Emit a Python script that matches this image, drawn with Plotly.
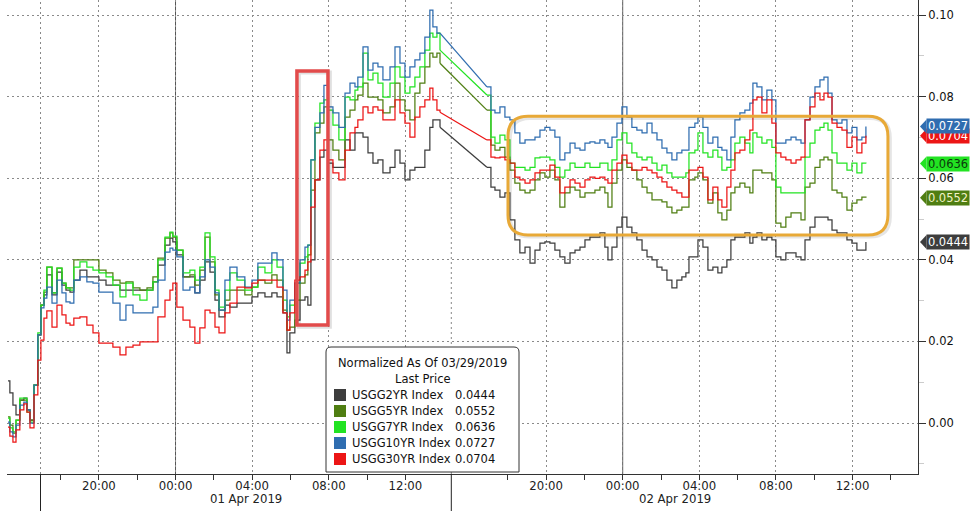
import plotly.graph_objects as go

# ---------------- data (hours on the chart's time scale, first 20:00 = 0) ----------------
hours = [
    -4.75, -4.65, -4.49, -4.33, -4.13, -3.92, -3.76, -3.60, -3.39, -3.19,
    -3.03, -2.87, -2.72, -2.45, -2.19, -1.93, -1.72, -1.51, -1.31, -0.99,
    -0.63, -0.31, 0.00, 0.37, 0.73, 1.10, 1.41, 1.78, 2.14, 2.51,
    2.82, 3.08, 3.45, 3.71, 3.86, 4.07, 4.39, 4.75, 5.01, 5.27,
    5.54, 5.80, 6.06, 6.27, 6.58, 6.84, 7.21, 7.62, 7.99, 8.30,
    8.67, 9.03, 9.30, 9.61, 9.82, 9.97, 10.23, 10.50, 10.76, 10.91,
    11.07, 11.28, 11.54, 11.75, 11.96, 12.22, 12.53, 12.85, 13.11, 13.37,
    13.52, 13.79, 14.05, 14.31, 14.57, 14.83, 15.20, 15.46, 15.72, 15.98,
    16.24, 16.50, 16.76, 17.02, 17.28, 17.44, 17.65, 17.81,
    20.26,
    20.47, 20.68, 20.94, 21.20, 21.46, 21.72, 21.98, 22.25, 22.51, 22.77,
    23.03, 23.29, 23.55, 23.81, 24.07, 24.33, 24.60, 24.86, 25.12, 25.38,
    25.64, 25.90, 26.16, 26.42, 26.58, 26.79, 27.05, 27.31, 27.57, 27.83,
    28.09, 28.36, 28.62, 28.88, 29.14, 29.40, 29.66, 29.92, 30.18, 30.44,
    30.65, 30.81, 31.12, 31.28, 31.54, 31.80, 32.06, 32.32, 32.53, 32.79,
    33.00, 33.21, 33.47, 33.73, 33.99, 34.15, 34.36, 34.62, 34.88, 35.14,
    35.35, 35.61, 35.87, 36.14, 36.40, 36.66, 36.87, 37.13, 37.39, 37.65,
    37.86, 38.07, 38.28, 38.54, 38.80, 39.06, 39.32, 39.58, 39.84, 40.05,
]

usgg2yr = [
    0.0103, 0.0074, 0.0044, 0.0020, 0.0056, 0.0061, 0.0032, 0.0007, 0.0093, 0.0216,
    0.0289, 0.0314, 0.0363, 0.0314, 0.0370, 0.0338, 0.0326, 0.0321, 0.0350, 0.0375,
    0.0358, 0.0358, 0.0350, 0.0338, 0.0338, 0.0326, 0.0326, 0.0326, 0.0326, 0.0326,
    0.0346, 0.0387, 0.0436, 0.0453, 0.0444, 0.0412, 0.0358, 0.0358, 0.0319, 0.0350,
    0.0395, 0.0370, 0.0301, 0.0260, 0.0289, 0.0284, 0.0294, 0.0294, 0.0309, 0.0319,
    0.0309, 0.0319, 0.0309, 0.0270, 0.0172, 0.0221, 0.0252, 0.0301, 0.0309, 0.0289,
    0.0400, 0.0596, 0.0652, 0.0669, 0.0637, 0.0627, 0.0627, 0.0694, 0.0669, 0.0711,
    0.0711, 0.0701, 0.0662, 0.0637, 0.0645, 0.0613, 0.0627, 0.0669, 0.0637, 0.0596,
    0.0620, 0.0627, 0.0627, 0.0669, 0.0725, 0.0743, 0.0743, 0.0725,
    0.0627,
    0.0578, 0.0571, 0.0554, 0.0564, 0.0498, 0.0449, 0.0417, 0.0431, 0.0392, 0.0424,
    0.0441, 0.0444, 0.0441, 0.0424, 0.0407, 0.0392, 0.0417, 0.0424, 0.0431, 0.0449,
    0.0456, 0.0456, 0.0466, 0.0431, 0.0400, 0.0431, 0.0480, 0.0505, 0.0480, 0.0466,
    0.0449, 0.0424, 0.0407, 0.0400, 0.0382, 0.0375, 0.0350, 0.0331, 0.0350, 0.0358,
    0.0368, 0.0407, 0.0407, 0.0449, 0.0431, 0.0375, 0.0382, 0.0368, 0.0382, 0.0400,
    0.0449, 0.0456, 0.0456, 0.0466, 0.0441, 0.0456, 0.0466, 0.0449, 0.0456, 0.0449,
    0.0407, 0.0400, 0.0417, 0.0417, 0.0407, 0.0400, 0.0449, 0.0480, 0.0505, 0.0505,
    0.0505, 0.0498, 0.0473, 0.0466, 0.0466, 0.0449, 0.0441, 0.0424, 0.0424, 0.0444,
]

usgg5yr = [
    0.0015, -0.0005, -0.0025, 0.0007, 0.0056, 0.0056, 0.0032, 0.0007, 0.0093, 0.0216,
    0.0289, 0.0321, 0.0382, 0.0319, 0.0380, 0.0343, 0.0331, 0.0331, 0.0400, 0.0400,
    0.0400, 0.0400, 0.0375, 0.0368, 0.0350, 0.0343, 0.0346, 0.0331, 0.0326, 0.0331,
    0.0358, 0.0404, 0.0453, 0.0466, 0.0456, 0.0424, 0.0358, 0.0363, 0.0338, 0.0375,
    0.0456, 0.0395, 0.0314, 0.0277, 0.0301, 0.0326, 0.0326, 0.0314, 0.0333, 0.0350,
    0.0343, 0.0363, 0.0350, 0.0277, 0.0228, 0.0235, 0.0301, 0.0343, 0.0363, 0.0412,
    0.0571, 0.0711, 0.0735, 0.0775, 0.0694, 0.0669, 0.0645, 0.0750, 0.0767, 0.0792,
    0.0804, 0.0833, 0.0799, 0.0799, 0.0792, 0.0760, 0.0775, 0.0833, 0.0792, 0.0767,
    0.0743, 0.0809, 0.0833, 0.0873, 0.0907, 0.0897, 0.0907, 0.0882,
    0.0767,
    0.0681, 0.0669, 0.0676, 0.0652, 0.0620, 0.0588, 0.0571, 0.0564, 0.0571, 0.0596,
    0.0613, 0.0603, 0.0620, 0.0596, 0.0529, 0.0564, 0.0578, 0.0571, 0.0554, 0.0564,
    0.0564, 0.0571, 0.0578, 0.0564, 0.0529, 0.0588, 0.0620, 0.0645, 0.0627, 0.0620,
    0.0596, 0.0578, 0.0564, 0.0547, 0.0547, 0.0542, 0.0529, 0.0515, 0.0522, 0.0529,
    0.0529, 0.0596, 0.0603, 0.0613, 0.0596, 0.0539, 0.0564, 0.0515, 0.0498, 0.0522,
    0.0564, 0.0578, 0.0588, 0.0578, 0.0564, 0.0620, 0.0620, 0.0613, 0.0613, 0.0596,
    0.0490, 0.0480, 0.0505, 0.0515, 0.0515, 0.0498, 0.0578, 0.0588, 0.0627, 0.0645,
    0.0652, 0.0645, 0.0571, 0.0564, 0.0554, 0.0522, 0.0539, 0.0547, 0.0554, 0.0552,
]

usgg7yr = [
    0.0012, -0.0012, -0.0022, 0.0007, 0.0061, 0.0061, 0.0027, 0.0002, 0.0093, 0.0221,
    0.0289, 0.0326, 0.0382, 0.0319, 0.0380, 0.0343, 0.0331, 0.0326, 0.0382, 0.0395,
    0.0382, 0.0375, 0.0368, 0.0358, 0.0338, 0.0309, 0.0343, 0.0314, 0.0301, 0.0326,
    0.0346, 0.0400, 0.0456, 0.0468, 0.0458, 0.0424, 0.0368, 0.0375, 0.0350, 0.0382,
    0.0466, 0.0407, 0.0326, 0.0284, 0.0326, 0.0368, 0.0350, 0.0326, 0.0333, 0.0382,
    0.0368, 0.0400, 0.0382, 0.0301, 0.0260, 0.0289, 0.0343, 0.0392, 0.0407, 0.0436,
    0.0645, 0.0735, 0.0784, 0.0792, 0.0767, 0.0730, 0.0694, 0.0799, 0.0792, 0.0816,
    0.0824, 0.0907, 0.0841, 0.0858, 0.0833, 0.0799, 0.0833, 0.0873, 0.0848, 0.0809,
    0.0824, 0.0848, 0.0873, 0.0914, 0.0956, 0.0946, 0.0956, 0.0914,
    0.0804,
    0.0701, 0.0686, 0.0706, 0.0694, 0.0637, 0.0627, 0.0627, 0.0620, 0.0627, 0.0650,
    0.0652, 0.0652, 0.0645, 0.0627, 0.0603, 0.0620, 0.0637, 0.0627, 0.0627, 0.0637,
    0.0627, 0.0627, 0.0637, 0.0637, 0.0620, 0.0645, 0.0694, 0.0711, 0.0686, 0.0662,
    0.0652, 0.0645, 0.0652, 0.0637, 0.0620, 0.0632, 0.0613, 0.0603, 0.0603, 0.0603,
    0.0613, 0.0662, 0.0669, 0.0711, 0.0662, 0.0652, 0.0669, 0.0652, 0.0620, 0.0627,
    0.0645, 0.0686, 0.0701, 0.0686, 0.0662, 0.0711, 0.0701, 0.0686, 0.0694, 0.0676,
    0.0578, 0.0564, 0.0564, 0.0564, 0.0564, 0.0564, 0.0652, 0.0686, 0.0718, 0.0725,
    0.0735, 0.0718, 0.0662, 0.0637, 0.0637, 0.0620, 0.0637, 0.0613, 0.0637, 0.0636,
]

usgg10yr = [
    0.0002, -0.0022, -0.0034, -0.0005, 0.0044, 0.0051, 0.0032, 0.0000, 0.0093, 0.0216,
    0.0282, 0.0306, 0.0333, 0.0294, 0.0350, 0.0319, 0.0297, 0.0294, 0.0350, 0.0358,
    0.0346, 0.0343, 0.0321, 0.0321, 0.0294, 0.0252, 0.0289, 0.0270, 0.0270, 0.0270,
    0.0284, 0.0350, 0.0419, 0.0429, 0.0424, 0.0407, 0.0326, 0.0333, 0.0319, 0.0358,
    0.0400, 0.0382, 0.0319, 0.0277, 0.0350, 0.0382, 0.0358, 0.0333, 0.0350, 0.0392,
    0.0392, 0.0417, 0.0400, 0.0326, 0.0252, 0.0301, 0.0343, 0.0400, 0.0431, 0.0436,
    0.0645, 0.0725, 0.0760, 0.0828, 0.0775, 0.0760, 0.0725, 0.0809, 0.0833, 0.0824,
    0.0848, 0.0922, 0.0865, 0.0882, 0.0873, 0.0841, 0.0873, 0.0922, 0.0882, 0.0848,
    0.0873, 0.0890, 0.0907, 0.0946, 0.1012, 0.0971, 0.0956, 0.0956,
    0.0824,
    0.0767, 0.0760, 0.0775, 0.0750, 0.0743, 0.0711, 0.0686, 0.0694, 0.0694, 0.0701,
    0.0718, 0.0725, 0.0718, 0.0701, 0.0645, 0.0662, 0.0686, 0.0674, 0.0669, 0.0686,
    0.0689, 0.0686, 0.0694, 0.0686, 0.0676, 0.0701, 0.0735, 0.0775, 0.0750, 0.0725,
    0.0718, 0.0711, 0.0735, 0.0711, 0.0694, 0.0674, 0.0662, 0.0645, 0.0662, 0.0669,
    0.0669, 0.0725, 0.0735, 0.0750, 0.0725, 0.0686, 0.0701, 0.0676, 0.0669, 0.0645,
    0.0701, 0.0743, 0.0760, 0.0767, 0.0784, 0.0833, 0.0824, 0.0792, 0.0816, 0.0792,
    0.0686, 0.0686, 0.0694, 0.0701, 0.0694, 0.0686, 0.0743, 0.0799, 0.0824, 0.0841,
    0.0848, 0.0809, 0.0743, 0.0735, 0.0743, 0.0711, 0.0725, 0.0694, 0.0701, 0.0727,
]

usgg30yr = [
    -0.0010, -0.0032, -0.0047, -0.0017, 0.0032, 0.0047, 0.0027, -0.0012, 0.0069, 0.0154,
    0.0203, 0.0257, 0.0275, 0.0235, 0.0289, 0.0265, 0.0245, 0.0240, 0.0257, 0.0260,
    0.0240, 0.0221, 0.0196, 0.0196, 0.0186, 0.0167, 0.0186, 0.0191, 0.0199, 0.0199,
    0.0199, 0.0260, 0.0301, 0.0326, 0.0343, 0.0284, 0.0252, 0.0235, 0.0196, 0.0233,
    0.0277, 0.0270, 0.0235, 0.0221, 0.0270, 0.0294, 0.0333, 0.0331, 0.0343, 0.0350,
    0.0350, 0.0350, 0.0333, 0.0270, 0.0228, 0.0270, 0.0350, 0.0358, 0.0375, 0.0395,
    0.0529, 0.0596, 0.0669, 0.0694, 0.0645, 0.0613, 0.0596, 0.0669, 0.0711, 0.0725,
    0.0743, 0.0775, 0.0760, 0.0775, 0.0767, 0.0743, 0.0743, 0.0792, 0.0760, 0.0735,
    0.0701, 0.0750, 0.0775, 0.0792, 0.0821, 0.0792, 0.0767, 0.0762,
    0.0694,
    0.0652, 0.0650, 0.0652, 0.0645, 0.0637, 0.0603, 0.0596, 0.0588, 0.0596, 0.0613,
    0.0620, 0.0620, 0.0632, 0.0603, 0.0564, 0.0578, 0.0596, 0.0588, 0.0578, 0.0596,
    0.0603, 0.0600, 0.0603, 0.0596, 0.0588, 0.0620, 0.0637, 0.0657, 0.0637, 0.0620,
    0.0620, 0.0627, 0.0620, 0.0613, 0.0603, 0.0591, 0.0578, 0.0571, 0.0564, 0.0554,
    0.0554, 0.0620, 0.0620, 0.0627, 0.0603, 0.0547, 0.0578, 0.0547, 0.0529, 0.0578,
    0.0620, 0.0662, 0.0669, 0.0694, 0.0718, 0.0792, 0.0799, 0.0760, 0.0792, 0.0735,
    0.0662, 0.0652, 0.0645, 0.0637, 0.0645, 0.0652, 0.0743, 0.0775, 0.0809, 0.0792,
    0.0809, 0.0799, 0.0735, 0.0725, 0.0718, 0.0676, 0.0701, 0.0662, 0.0686, 0.0704,
]

series_names = ["USGG2YR Index", "USGG5YR Index", "USGG7YR Index",
                "USGG10YR Index", "USGG30YR Index"]
last_price = [0.0444, 0.0552, 0.0636, 0.0727, 0.0704]

tick_hours = [0, 4, 8, 12, 16, 23.35, 27.35, 31.35, 35.35, 39.35]
tick_labels = ["20:00", "00:00", "04:00", "08:00", "12:00",
               "20:00", "00:00", "04:00", "08:00", "12:00"]
minor_hours = [-2, 2, 6, 10, 14, 21.35, 25.35, 29.35, 33.35, 37.35, 41.35]
midnight_hours = [4, 27.35]
session_breaks = [-3.05, 18.4]
date_labels = ["01 Apr 2019", "02 Apr 2019"]
date_label_hours = [7.7, 30.1]
y_ticks = [0.0, 0.02, 0.04, 0.06, 0.08, 0.10]
y_minor = [-0.01, 0.01, 0.03, 0.05, 0.07, 0.09]
legend_title = ["Normalized As Of 03/29/2019", "Last Price"]

# ---------------- styling ----------------
line_colors = ["#3d3d3d", "#4f7e12", "#22e322", "#2f6db0", "#ec1515"]
tag_text_colors = ["#ffffff", "#f2f2c8", "#0c3a0c", "#ffffff", "#ffffff"]
W, H = 976, 511
ML, MR, MT, MB = 7, 58, 0, 37
PW, PH = W - ML - MR, H - MT - MB
X_RANGE = [-4.80, 42.77]
Y_RANGE = [-0.0125, 0.1037]
FONT = "DejaVu Sans, Verdana, sans-serif"
NARROW = "Liberation Sans Narrow, DejaVu Sans Condensed, Arial Narrow, sans-serif"


def px(x):
    return (x - ML) / PW


def py(y):
    return (H - MB - y) / PH


fig = go.Figure()
series = [usgg2yr, usgg5yr, usgg7yr, usgg10yr, usgg30yr]
gap_start = hours.index(17.81)
gap_end = hours.index(20.26)
for name, vals, col in zip(series_names, series, line_colors):
    ln = dict(color=col, width=1.25)
    fig.add_trace(go.Scatter(x=hours[:gap_start + 1], y=vals[:gap_start + 1], mode="lines",
                             name=name, line=dict(**ln, shape="hv"),
                             showlegend=False, hoverinfo="skip"))
    fig.add_trace(go.Scatter(x=hours[gap_start:gap_end + 1], y=vals[gap_start:gap_end + 1],
                             mode="lines", name=name, line=dict(**ln, shape="linear"),
                             showlegend=False, hoverinfo="skip"))
    fig.add_trace(go.Scatter(x=hours[gap_end:], y=vals[gap_end:], mode="lines",
                             name=name, line=dict(**ln, shape="hv"),
                             showlegend=False, hoverinfo="skip"))

shapes = []
for h in midnight_hours:
    shapes.append(dict(type="line", xref="x", yref="paper", x0=h, x1=h, y0=0, y1=1,
                       line=dict(color="#555555", width=1), layer="between"))
for h in session_breaks:
    shapes.append(dict(type="line", xref="x", yref="paper", x0=h, x1=h, y0=0, y1=1,
                       line=dict(color="#888888", width=1, dash="2px,3px"), layer="between"))
    shapes.append(dict(type="line", xref="x", yref="paper", x0=h, x1=h, y0=0, y1=-MB / PH,
                       line=dict(color="#222222", width=1), layer="above"))

# red highlight box
rb = dict(x0=10.34, x1=11.96, y0=0.0240, y1=0.0863)
shapes.append(dict(type="rect", xref="x", yref="y", x0=rb["x0"] + 0.1, x1=rb["x1"] + 0.1,
                   y0=rb["y0"] - 0.0004, y1=rb["y1"] - 0.0004,
                   line=dict(color="rgba(0,0,0,0.12)", width=4), layer="above"))
shapes.append(dict(type="rect", xref="x", yref="y", **rb,
                   line=dict(color="#e24b4b", width=3.5), layer="above"))

# orange rounded box
x0, x1, yb, yt = 21.36, 41.2, 0.0461, 0.0752
rx = 20 / (PW / (X_RANGE[1] - X_RANGE[0]))
ry = 20 / (PH / (Y_RANGE[1] - Y_RANGE[0]))


def rounded(x0, x1, yb, yt, rx, ry):
    return (f"M {x0+rx},{yt} L {x1-rx},{yt} Q {x1},{yt} {x1},{yt-ry} "
            f"L {x1},{yb+ry} Q {x1},{yb} {x1-rx},{yb} L {x0+rx},{yb} "
            f"Q {x0},{yb} {x0},{yb+ry} L {x0},{yt-ry} Q {x0},{yt} {x0+rx},{yt} Z")


shapes.append(dict(type="path", xref="x", yref="y",
                   path=rounded(x0 + 0.1, x1 + 0.1, yb - 0.0004, yt - 0.0004, rx, ry),
                   line=dict(color="rgba(0,0,0,0.10)", width=4), layer="above"))
shapes.append(dict(type="path", xref="x", yref="y", path=rounded(x0, x1, yb, yt, rx, ry),
                   line=dict(color="#e8a937", width=3), layer="above"))

# legend box
lx0, lx1, ly0, ly1 = px(326), px(519), py(472), py(347)
lrx, lry = 5 / PW, 5 / PH
shapes.append(dict(type="path", xref="paper", yref="paper",
                   path=(f"M {lx0+lrx},{ly1} L {lx1-lrx},{ly1} Q {lx1},{ly1} {lx1},{ly1-lry} "
                         f"L {lx1},{ly0} L {lx0},{ly0} L {lx0},{ly1-lry} Q {lx0},{ly1} {lx0+lrx},{ly1} Z"),
                   fillcolor="white", line=dict(color="#333333", width=1), layer="above"))

annotations = []
for k, yy in enumerate([363, 379]):
    annotations.append(dict(xref="paper", yref="paper", x=px(422.5), y=py(yy), text=legend_title[k],
                            showarrow=False, xanchor="center", yanchor="middle",
                            font=dict(family=FONT, size=11.5, color="#111111")))
for i, (name, val, col) in enumerate(zip(series_names, last_price, line_colors)):
    ry_px = 395 + 16 * i
    shapes.append(dict(type="rect", xref="paper", yref="paper",
                       x0=px(334), x1=px(346), y0=py(ry_px + 6), y1=py(ry_px - 6),
                       fillcolor=col, line=dict(width=0), layer="above"))
    annotations.append(dict(xref="paper", yref="paper", x=px(350), y=py(ry_px), text=name,
                            showarrow=False, xanchor="left", yanchor="middle",
                            font=dict(family=FONT, size=11.5, color="#111111")))
    annotations.append(dict(xref="paper", yref="paper", x=px(453), y=py(ry_px), text=f"{val:.4f}",
                            showarrow=False, xanchor="left", yanchor="middle",
                            font=dict(family=FONT, size=11.5, color="#111111")))

# last-value tags on the right axis
tag_order = [0, 1, 2, 4, 3]  # red before blue so blue sits on top
half = 7 * (Y_RANGE[1] - Y_RANGE[0]) / PH
for i in tag_order:
    v = last_price[i]
    shapes.append(dict(type="path", xref="paper", yref="y",
                       path=f"M {px(920)},{v} L {px(926.5)},{v+half} L {px(926.5)},{v-half} Z",
                       fillcolor=line_colors[i], line=dict(width=0), layer="above"))
    annotations.append(dict(xref="paper", yref="y", x=px(926), y=v, text=f"{v:.4f}",
                            showarrow=False, xanchor="left", yanchor="middle",
                            width=42, height=14, bgcolor=line_colors[i], borderpad=0,
                            font=dict(family=FONT, size=11.5, color=tag_text_colors[i])))

# date labels under the time axis
for lab, h in zip(date_labels, date_label_hours):
    annotations.append(dict(xref="x", yref="paper", x=h, y=py(499), text=lab,
                            showarrow=False, xanchor="center", yanchor="middle",
                            font=dict(family=NARROW, size=13, color="#222222")))

fig.update_layout(
    width=W, height=H, autosize=False,
    margin=dict(l=ML, r=MR, t=MT, b=MB, pad=0),
    paper_bgcolor="white", plot_bgcolor="white",
    showlegend=False, hovermode=False,
    shapes=shapes, annotations=annotations,
    xaxis=dict(range=X_RANGE, tickmode="array", tickvals=tick_hours, ticktext=tick_labels,
               showgrid=True, gridcolor="#8a8a8a", griddash="2px,3px", gridwidth=1,
               zeroline=False, showline=True, linecolor="#333333", linewidth=1,
               ticks="outside", ticklen=5, tickcolor="#333333", ticklabelstandoff=-6,
               minor=dict(tickmode="array", tickvals=minor_hours, ticks="outside",
                          ticklen=5, tickcolor="#333333", showgrid=False),
               tickfont=dict(family=NARROW, size=13, color="#222222")),
    yaxis=dict(range=Y_RANGE, side="right", tickmode="array", tickvals=y_ticks,
               ticktext=[f"{t:.2f}" for t in y_ticks],
               showgrid=True, gridcolor="#8a8a8a", griddash="2px,3px", gridwidth=1,
               zeroline=False, showline=True, linecolor="#333333", linewidth=1,
               ticks="outside", ticklen=7, tickcolor="#333333",
               minor=dict(tickmode="array", tickvals=y_minor, ticks="outside",
                          ticklen=5, tickcolor="#cccccc", showgrid=False),
               tickfont=dict(family=FONT, size=11.5, color="#111111")),
)

fig.write_html("out.html", config={"displayModeBar": False, "staticPlot": True},
               post_script="document.body.style.margin='0px';document.body.style.overflow='hidden';")
